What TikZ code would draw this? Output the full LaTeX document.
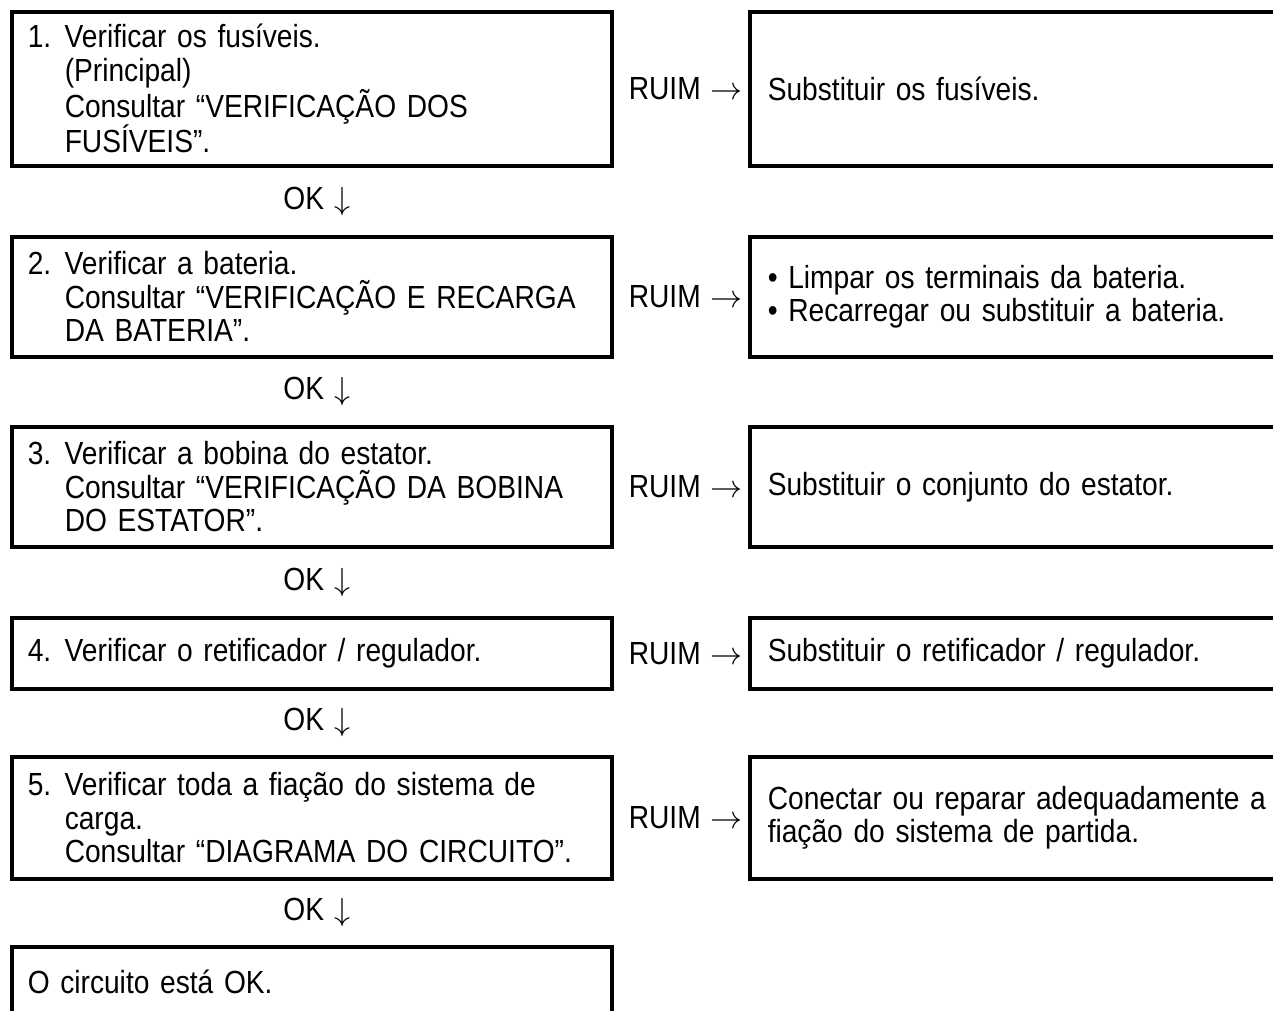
\documentclass[tikz,border=0pt]{standalone}
\usepackage{fix-cm}
\usepackage{fontspec}
\setmainfont{Liberation Sans}[FakeStretch=0.88,WordSpace=0.85]
\usetikzlibrary{calc}
\newcommand{\numl}[1]{\makebox[37pt][l]{#1}}
\newcommand{\indl}{\hspace*{37pt}}
\begin{document}
\begin{tikzpicture}[x=1pt,y=-1pt,
  every node/.style={font=\fontsize{32}{33.5}\selectfont},
  lbox/.style={draw, line width=3.5pt, anchor=north west, minimum width=600pt,
    inner xsep=16pt, inner ysep=0pt, text width=568pt, align=left},
  rbox/.style={draw, line width=3.5pt, anchor=north west, minimum width=560pt,
    inner xsep=18pt, inner ysep=0pt, text width=524pt, align=left},
  lab/.style={inner sep=0pt}]
\clip (0,0) rectangle (1273,1010);
\fill[white] (0,0) rectangle (1273,1010);
% left column
\node[lbox, minimum height=154pt] (b1) at (10,10) {\numl{1.}Verificar os fusíveis.\\\indl(Principal)\\\indl Consultar “VERIFICAÇÃO DOS\\\indl FUSÍVEIS”.};
\node[lbox, minimum height=120pt] (b2) at (10,235) {\numl{2.}Verificar a bateria.\\\indl Consultar “VERIFICAÇÃO E RECARGA\\\indl DA BATERIA”.};
\node[lbox, minimum height=120pt] (b3) at (10,425) {\numl{3.}Verificar a bobina do estator.\\\indl Consultar “VERIFICAÇÃO DA BOBINA\\\indl DO ESTATOR”.};
\node[lbox, minimum height=71pt] (b4) at (10,616) {\numl{4.}Verificar o retificador / regulador.};
\node[lbox, minimum height=122pt] (b5) at (10,755) {\numl{5.}Verificar toda a fiação do sistema de\\\indl carga.\\\indl Consultar “DIAGRAMA DO CIRCUITO”.};
\node[lbox, minimum height=70pt] (b6) at (10,945) {O circuito está OK.};
% right column
\node[rbox, minimum height=154pt] (r1) at (748,10) {Substituir os fusíveis.};
\node[rbox, minimum height=120pt] (r2) at (748,235) {• Limpar os terminais da bateria.\\• Recarregar ou substituir a bateria.};
\node[rbox, minimum height=120pt] (r3) at (748,425) {Substituir o conjunto do estator.};
\node[rbox, minimum height=71pt] (r4) at (748,616) {Substituir o retificador / regulador.};
\node[rbox, minimum height=122pt] (r5) at (748,755) {Conectar ou reparar adequadamente a\\fiação do sistema de partida.};
% RUIM labels
\foreach \i in {1,...,5}{
  \node[lab] (ruim\i) at ($(b\i.east)!0.5!(r\i.west)+(5,0)$) {RUIM\hspace{10pt}$\rightarrow$};
}
% OK labels
\foreach \i/\j in {1/2,2/3,3/4,4/5,5/6}{
  \node[lab] (ok\i) at ($(b\i.south)!0.5!(b\j.north)+(5,0)$) {OK\hspace{10pt}$\downarrow$};
}
\end{tikzpicture}
\end{document}
